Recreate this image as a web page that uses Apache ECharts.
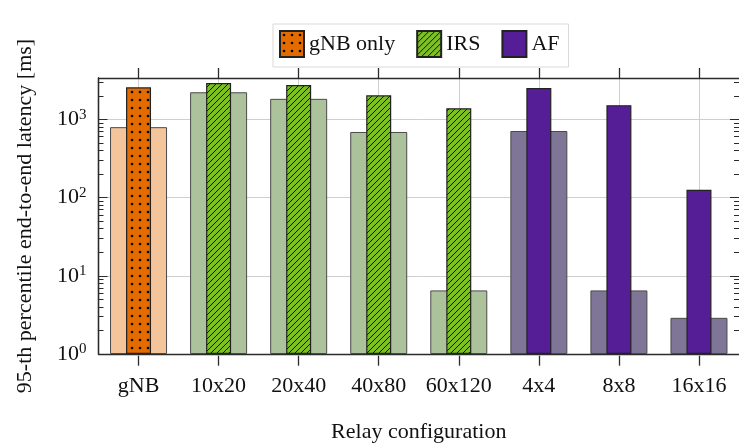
<!DOCTYPE html>
<html>
<head>
<meta charset="utf-8">
<script src="https://cdn.jsdelivr.net/npm/echarts@6/dist/echarts.min.js"></script>
<style>
  html, body { margin: 0; padding: 0; background: #fff; }
  #chart { width: 739px; height: 448px; }
</style>
</head>
<body>
<div id="chart"></div>
<script>
// relay configurations on the x axis
const categories = ['gNB', '10x20', '20x40', '40x80', '60x120', '4x4', '8x8', '16x16']
// wide, pale bars behind the 95-th percentile bars
const backLatency = [795, 2220, 1830, 690, 6.5, 710, 6.5, 2.9]
// 95-th percentile latency [ms], one array per legend entry
const gnbOnly = [2570, '-', '-', '-', '-', '-', '-', '-']
const irs = ['-', 2920, 2750, 2030, 1390, '-', '-', '-']
const af = ['-', '-', '-', '-', '-', 2520, 1520, 126]
// y ticks
const majorTicks = [1, 10, 100, 1000]
const minorTicks = [2, 3, 4, 5, 6, 7, 8, 9, 20, 30, 40, 50, 60, 70, 80, 90,
  200, 300, 400, 500, 600, 700, 800, 900, 2000, 3000]

const FONT = 'Liberation Serif'
const AXIS = '#2b2b2b'
const GRIDC = '#cfcfcf'
const YMIN = 1
const YMAX = 3380

// pale colour per category for the back bars
const backColors = ['#f4c49b', '#abc29a', '#abc29a', '#abc29a', '#abc29a', '#7f7596', '#7f7596', '#7f7596']

function dotPattern() {
  const c = document.createElement('canvas')
  c.width = 8; c.height = 8
  const g = c.getContext('2d')
  g.fillStyle = '#e36b00'
  g.fillRect(0, 0, 8, 8)
  g.fillStyle = '#000'
  g.beginPath()
  g.arc(4, 4, 1.3, 0, Math.PI * 2)
  g.fill()
  return { image: c, repeat: 'repeat' }
}

function hatchPattern() {
  const c = document.createElement('canvas')
  c.width = 6; c.height = 6
  const g = c.getContext('2d')
  g.fillStyle = '#7dc024'
  g.fillRect(0, 0, 6, 6)
  g.strokeStyle = '#111'
  g.lineWidth = 1
  g.beginPath()
  g.moveTo(-1, 7); g.lineTo(7, -1)
  g.moveTo(-4, 4); g.lineTo(4, -4)
  g.moveTo(2, 10); g.lineTo(10, 2)
  g.stroke()
  return { image: c, repeat: 'repeat' }
}

const chart = echarts.init(document.getElementById('chart'), null, { renderer: 'canvas' })

function logAxis(pos, ticks, len, showLabel, showSplit) {
  return {
    type: 'log',
    logBase: 10,
    position: pos,
    min: YMIN,
    max: YMAX,
    axisLine: { show: pos === 'left', onZero: false, lineStyle: { color: AXIS, width: 1.3 } },
    axisTick: { show: true, inside: true, length: len, customValues: ticks, lineStyle: { color: AXIS, width: 1 } },
    axisLabel: {
      show: showLabel,
      customValues: majorTicks,
      margin: 12,
      fontFamily: FONT,
      fontSize: 22,
      color: '#111',
      formatter: v => '10{sup|' + Math.round(Math.log10(v)) + '}',
      rich: { sup: { fontFamily: FONT, fontSize: 15, color: '#111', verticalAlign: 'top', padding: [0, 0, 9, 0] } },
    },
    splitLine: { show: showSplit, lineStyle: { color: GRIDC, width: 1 } },
  }
}

// tick-only category axis placed on a grid's top edge
function tickAxis(gridIndex, inside) {
  return {
    type: 'category',
    gridIndex: gridIndex,
    data: categories,
    position: 'top',
    axisLine: { show: !inside, onZero: false, lineStyle: { color: AXIS, width: 1.3 } },
    axisTick: { show: true, interval: 0, alignWithLabel: true, inside: inside, length: 10, lineStyle: { color: AXIS, width: 1.3 } },
    axisLabel: { show: false, interval: 0 },
    splitLine: { show: false },
  }
}

const option = {
  backgroundColor: '#fff',
  animation: false,
  grid: [
    { left: 98.5, right: -4.25, top: 78, bottom: 92.3 },
    // thin strip right under the plot, only carries the bottom x ticks
    { left: 98.5, right: -4.25, top: 355.7, height: 10 },
  ],
  legend: {
    data: ['gNB only', 'IRS', 'AF'],
    icon: 'rect',
    left: 273,
    top: 24,
    padding: [6, 9, 9, 6],
    itemGap: 21,
    itemWidth: 24,
    itemHeight: 26,
    borderColor: '#d9d9d9',
    borderWidth: 1,
    backgroundColor: '#fff',
    textStyle: { fontFamily: FONT, fontSize: 22, color: '#111' },
  },
  xAxis: [
    {
      type: 'category',
      gridIndex: 0,
      data: categories,
      position: 'bottom',
      name: 'Relay configuration',
      nameLocation: 'middle',
      nameGap: 67,
      nameTextStyle: { fontFamily: FONT, fontSize: 22, color: '#111' },
      axisLine: { show: true, onZero: false, lineStyle: { color: AXIS, width: 1.3 } },
      axisTick: { show: false },
      axisLabel: { interval: 0, fontFamily: FONT, fontSize: 22, color: '#111', margin: 21 },
      splitLine: { show: true, interval: 0, alignWithLabel: true, lineStyle: { color: GRIDC, width: 1 } },
    },
    tickAxis(0, false),
    tickAxis(1, true),
  ],
  yAxis: [
    Object.assign(logAxis('left', majorTicks, 9, true, true), {
      name: '95-th percentile end-to-end latency [ms]',
      nameLocation: 'middle',
      nameGap: 62,
      nameTextStyle: { fontFamily: FONT, fontSize: 22, color: '#111' },
    }),
    logAxis('left', minorTicks, 5, false, false),
    logAxis('right', majorTicks, 9, false, false),
    logAxis('right', minorTicks, 5, false, false),
    { type: 'value', gridIndex: 1, show: false, min: 0, max: 1 },
  ],
  series: [
    {
      name: 'back',
      type: 'bar',
      xAxisIndex: 0,
      yAxisIndex: 0,
      barWidth: 57,
      data: backLatency.map((v, i) => ({
        value: v,
        itemStyle: { color: backColors[i] },
      })),
      itemStyle: { borderColor: '#4a4a4a', borderWidth: 1 },
      z: 2,
    },
    {
      name: 'gNB only',
      type: 'bar',
      xAxisIndex: 1,
      yAxisIndex: 0,
      barWidth: 25,
      barGap: '-100%',
      data: gnbOnly,
      itemStyle: { color: dotPattern(), borderColor: '#222', borderWidth: 1.2 },
      z: 3,
    },
    {
      name: 'IRS',
      type: 'bar',
      xAxisIndex: 1,
      yAxisIndex: 0,
      barWidth: 25,
      barGap: '-100%',
      data: irs,
      itemStyle: { color: hatchPattern(), borderColor: '#222', borderWidth: 1.2 },
      z: 3,
    },
    {
      name: 'AF',
      type: 'bar',
      xAxisIndex: 1,
      yAxisIndex: 0,
      barWidth: 25,
      barGap: '-100%',
      data: af,
      itemStyle: { color: '#561e96', borderColor: '#222', borderWidth: 1.2 },
      z: 3,
    },
  ],
}

chart.setOption(option)
</script>
</body>
</html>
